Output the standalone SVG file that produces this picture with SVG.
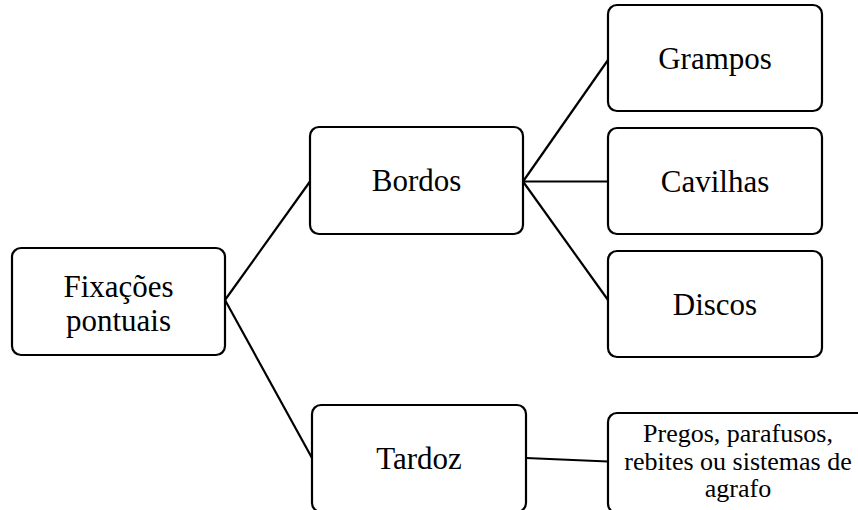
<svg xmlns="http://www.w3.org/2000/svg" width="858" height="510" viewBox="0 0 858 510">
  <style>
    .box { fill: #ffffff; stroke: #000000; stroke-width: 2.2; }
    .link { fill: none; stroke: #000000; stroke-width: 2.2; }
    text { font-family: 'Liberation Serif', 'DejaVu Serif', serif; font-size: 31px; fill: #000000; text-anchor: middle; }
    text.sm { font-size: 26px; }
  </style>
  <rect width="858" height="510" fill="#ffffff"/>

  <g id="connectors">
    <line class="link" x1="225" y1="300" x2="310" y2="181.5"/>
    <line class="link" x1="225" y1="300" x2="312" y2="458"/>
    <line class="link" x1="523" y1="181.5" x2="608" y2="60"/>
    <line class="link" x1="523" y1="181.5" x2="608" y2="181.5"/>
    <line class="link" x1="523" y1="181.5" x2="608" y2="300"/>
    <line class="link" x1="526" y1="458" x2="608" y2="461.5"/>
  </g>

  <g id="fixacoes">
    <rect class="box" x="12" y="248" width="213" height="107" rx="9"/>
    <text x="118.5" y="297">Fixações</text>
    <text x="118.5" y="331">pontuais</text>
  </g>

  <g id="bordos">
    <rect class="box" x="310" y="127" width="213" height="107" rx="9"/>
    <text x="416.5" y="191">Bordos</text>
  </g>

  <g id="tardoz">
    <rect class="box" x="312" y="405" width="214" height="107" rx="9"/>
    <text x="419" y="469">Tardoz</text>
  </g>

  <g id="grampos">
    <rect class="box" x="608" y="5" width="214" height="106" rx="9"/>
    <text x="715" y="68.5">Grampos</text>
  </g>

  <g id="cavilhas">
    <rect class="box" x="608" y="128" width="214" height="106" rx="9"/>
    <text x="715" y="191.5">Cavilhas</text>
  </g>

  <g id="discos">
    <rect class="box" x="608" y="251" width="214" height="106" rx="9"/>
    <text x="715" y="314.5">Discos</text>
  </g>

  <g id="pregos">
    <rect class="box" x="608" y="413" width="262" height="100" rx="9"/>
    <text class="sm" x="738" y="442">Pregos, parafusos,</text>
    <text class="sm" x="738" y="469.5">rebites ou sistemas de</text>
    <text class="sm" x="738" y="497">agrafo</text>
  </g>
</svg>
